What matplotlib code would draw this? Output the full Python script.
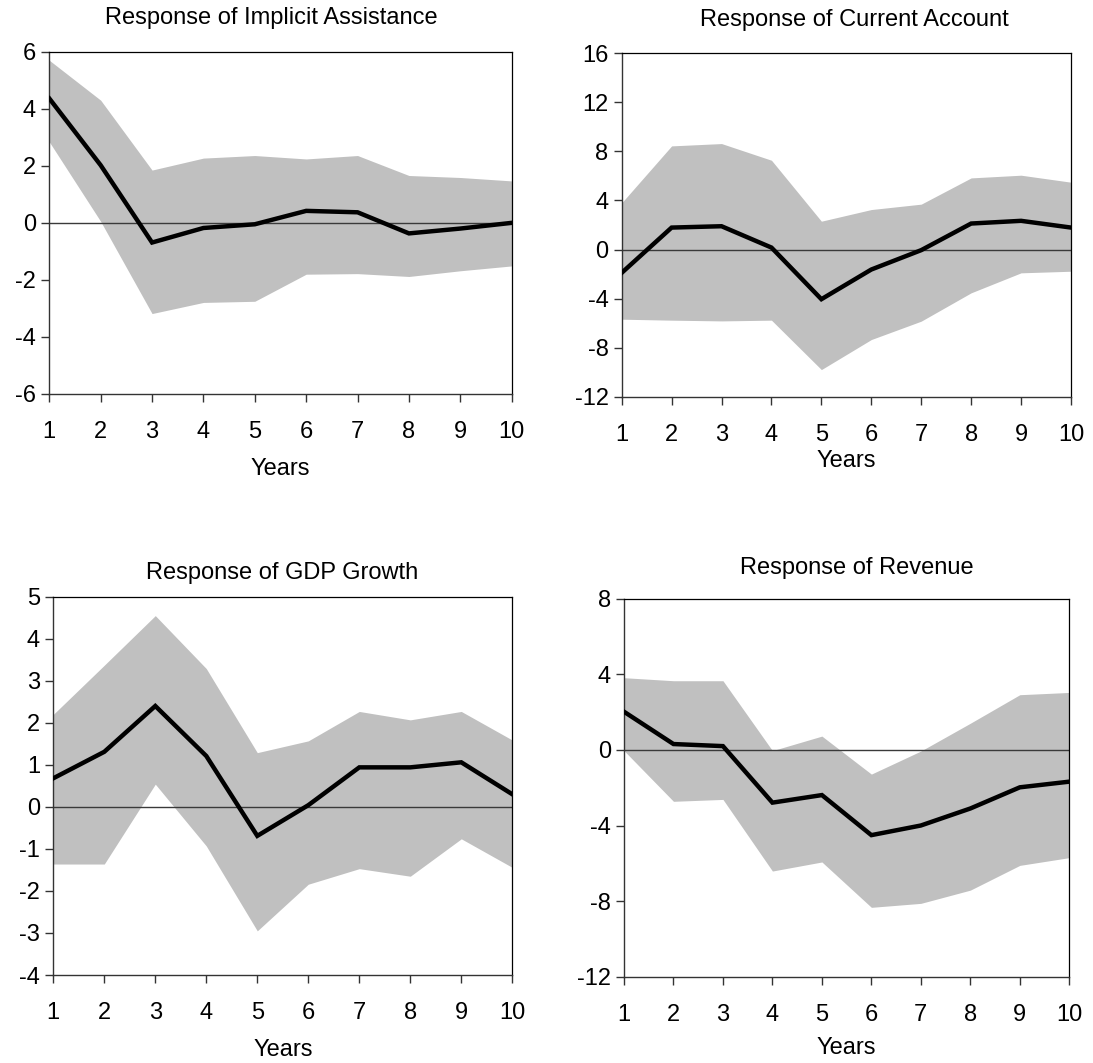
import matplotlib
matplotlib.use("Agg")
import matplotlib.pyplot as plt
from matplotlib import font_manager as fm

names = {f.name for f in fm.fontManager.ttflist}
FAMILY = 'Liberation Sans Narrow' if 'Liberation Sans Narrow' in names else 'Liberation Sans'
plt.rcParams['font.family'] = [FAMILY, 'DejaVu Sans']

years = [1, 2, 3, 4, 5, 6, 7, 8, 9, 10]

# Response of Implicit Assistance
ia_mid = [4.36, 2.02, -0.69, -0.18, -0.05, 0.42, 0.37, -0.37, -0.20, 0.00]
ia_up = [5.70, 4.30, 1.85, 2.27, 2.36, 2.24, 2.36, 1.66, 1.59, 1.47]
ia_lo = [2.84, 0.05, -3.18, -2.79, -2.75, -1.80, -1.78, -1.88, -1.68, -1.51]

# Response of Current Account
ca_mid = [-1.90, 1.79, 1.90, 0.16, -4.05, -1.63, -0.05, 2.12, 2.34, 1.79]
ca_up = [3.81, 8.45, 8.64, 7.28, 2.31, 3.26, 3.70, 5.84, 6.06, 5.49]
ca_lo = [-5.68, -5.76, -5.82, -5.76, -9.79, -7.34, -5.84, -3.53, -1.90, -1.77]

# Response of GDP Growth
gdp_mid = [0.68, 1.31, 2.40, 1.21, -0.69, 0.04, 0.94, 0.94, 1.06, 0.30]
gdp_up = [2.20, 3.37, 4.55, 3.29, 1.29, 1.57, 2.27, 2.07, 2.27, 1.59]
gdp_lo = [-1.36, -1.36, 0.54, -0.93, -2.95, -1.84, -1.47, -1.65, -0.76, -1.44]

# Response of Revenue
rev_mid = [2.02, 0.31, 0.20, -2.79, -2.39, -4.51, -4.00, -3.10, -1.98, -1.68]
rev_up = [3.82, 3.66, 3.66, -0.04, 0.73, -1.28, -0.06, 1.41, 2.92, 3.04]
rev_lo = [-0.04, -2.72, -2.62, -6.41, -5.93, -8.33, -8.12, -7.42, -6.11, -5.70]

titles = ["Response of Implicit Assistance", "Response of Current Account",
          "Response of GDP Growth", "Response of Revenue"]
yticks_list = [[-6, -4, -2, 0, 2, 4, 6],
               [-12, -8, -4, 0, 4, 8, 12, 16],
               [-4, -3, -2, -1, 0, 1, 2, 3, 4, 5],
               [-12, -8, -4, 0, 4, 8]]
xlabel = "Years"

W, H = 1093, 1063
fig = plt.figure(figsize=(W / 100, H / 100), dpi=100)

# axes boxes in pixels: left, top, right, bottom
boxes = [(49.3, 51.7, 511.7, 394.0),
         (621.7, 53.3, 1071.0, 396.7),
         (53.3, 596.7, 512.3, 975.0),
         (624.0, 598.7, 1069.3, 976.7)]
title_y = [18, 20, 573, 568]
title_x = [271, 854, 282, 857]
labelpads = [11, 3, 11, 8]

series = [(ia_mid, ia_up, ia_lo), (ca_mid, ca_up, ca_lo),
          (gdp_mid, gdp_up, gdp_lo), (rev_mid, rev_up, rev_lo)]

FS = 17
for i, (box, (mid, up, lo)) in enumerate(zip(boxes, series)):
    l, t, r, b = box
    ax = fig.add_axes([l / W, 1 - b / H, (r - l) / W, (b - t) / H])
    ax.fill_between(years, lo, up, color='#c0c0c0', linewidth=0, zorder=1)
    ax.axhline(0, color='#3a3a3a', linewidth=1.0, zorder=2)
    ax.plot(years, mid, color='black', linewidth=3.2, zorder=3,
            solid_joinstyle='miter')
    yt = yticks_list[i]
    ax.set_xlim(1, 10)
    ax.set_ylim(yt[0], yt[-1])
    ax.set_xticks(years)
    ax.set_xticklabels([str(y) for y in years])
    ax.set_yticks(yt)
    ax.set_yticklabels([str(v) for v in yt])
    ax.tick_params(axis='x', direction='out', length=5.5, width=1.0,
                   color='#333333', labelsize=FS, pad=14)
    ax.tick_params(axis='y', direction='out', length=5.5, width=1.0,
                   color='#333333', labelsize=FS, pad=4)
    for s in ['left', 'bottom']:
        ax.spines[s].set_color('#333333')
        ax.spines[s].set_linewidth(1.0)
    for s in ['top', 'right']:
        ax.spines[s].set_color('black')
        ax.spines[s].set_linewidth(0.9)
    ax.set_xlabel(xlabel, fontsize=FS, labelpad=labelpads[i])
    fig.text(title_x[i] / W, 1 - title_y[i] / H, titles[i], fontsize=FS,
             ha='center', va='center')

fig.savefig("out.png", dpi=100)
